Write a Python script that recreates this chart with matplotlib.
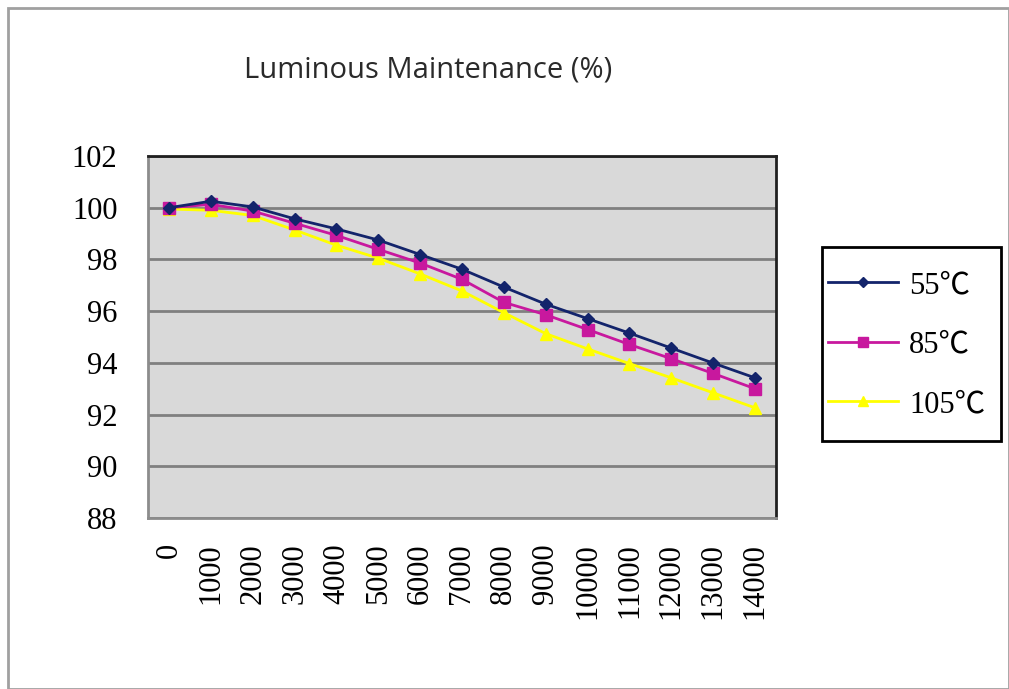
import matplotlib
matplotlib.use("Agg")
import matplotlib.pyplot as plt
from matplotlib.patches import Rectangle

hours = [0, 1000, 2000, 3000, 4000, 5000, 6000, 7000, 8000, 9000, 10000, 11000, 12000, 13000, 14000]
t55 = [100.0, 100.25, 100.03, 99.57, 99.18, 98.75, 98.19, 97.62, 96.93, 96.27, 95.71, 95.15, 94.57, 93.99, 93.42]
t85 = [100.0, 100.13, 99.87, 99.40, 98.93, 98.39, 97.86, 97.23, 96.34, 95.86, 95.29, 94.71, 94.16, 93.59, 93.00]
t105 = [99.95, 99.90, 99.70, 99.14, 98.55, 98.05, 97.44, 96.78, 95.94, 95.13, 94.54, 93.97, 93.42, 92.84, 92.26]
series_labels = ["55℃", "85℃", "105℃"]
y_ticks = [88, 90, 92, 94, 96, 98, 100, 102]
title = "Luminous Maintenance (%)"

serif = ["Liberation Serif", "Noto Sans CJK SC", "DejaVu Serif"]

fig = plt.figure(figsize=(10.09, 6.89), dpi=100)
W, H = 1009, 689
fig.patches.append(Rectangle((8 / W, 0), (W - 8) / W, (H - 8) / H, transform=fig.transFigure,
                             fill=False, edgecolor="#a0a0a0", linewidth=2))
# legend frame
fig.patches.append(Rectangle((822 / W, 1 - 441 / H), (1001 - 822) / W, (441 - 247) / H,
                             transform=fig.transFigure, fill=False, edgecolor="black", linewidth=2))

ax = fig.add_axes([148 / W, 1 - 518 / H, (776 - 148) / W, (518 - 156) / H])
ax.set_facecolor("#d9d9d9")

xs = list(range(len(hours)))
ax.plot(xs, t55, color="#13246b", marker="D", markersize=6, linewidth=2, label=series_labels[0], zorder=5)
ax.plot(xs, t85, color="#c8189e", marker="s", markersize=8, linewidth=2, label=series_labels[1], zorder=4)
ax.plot(xs, t105, color="#ffff00", marker="^", markersize=8, linewidth=2, label=series_labels[2], zorder=3)

ax.set_xlim(-0.5, len(hours) - 0.5)
ax.set_ylim(88, 102)
ax.set_yticks(y_ticks)
ax.set_yticklabels([str(v) for v in y_ticks], fontfamily=serif, fontsize=22)
ax.set_xticks(xs)
ax.set_xticklabels([str(h) for h in hours], rotation=90, fontfamily=serif, fontsize=22, va="top")
ax.tick_params(axis="both", length=0)
ax.tick_params(axis="y", pad=22)
ax.tick_params(axis="x", pad=18)
ax.yaxis.grid(True, color="#808080", linewidth=2)
ax.set_axisbelow(True)
for s in ["left", "bottom"]:
    ax.spines[s].set_color("#8c8c8c")
    ax.spines[s].set_linewidth(2)
for s in ["top", "right"]:
    ax.spines[s].set_color("#202020")
    ax.spines[s].set_linewidth(2)

fig.text(428 / W, 1 - 70 / H, title, ha="center", va="center", fontsize=21, fontfamily="Open Sans",
         color="#2a2a2a")

leg = ax.legend(loc="upper left", bbox_to_anchor=(828 / W, 1 - 271 / H), bbox_transform=fig.transFigure,
                borderaxespad=0, prop={"family": serif, "size": 22}, frameon=False,
                handlelength=2.3, borderpad=0, labelspacing=1.0, handletextpad=0.35, markerscale=0.85)

fig.savefig("out.png", dpi=100)
